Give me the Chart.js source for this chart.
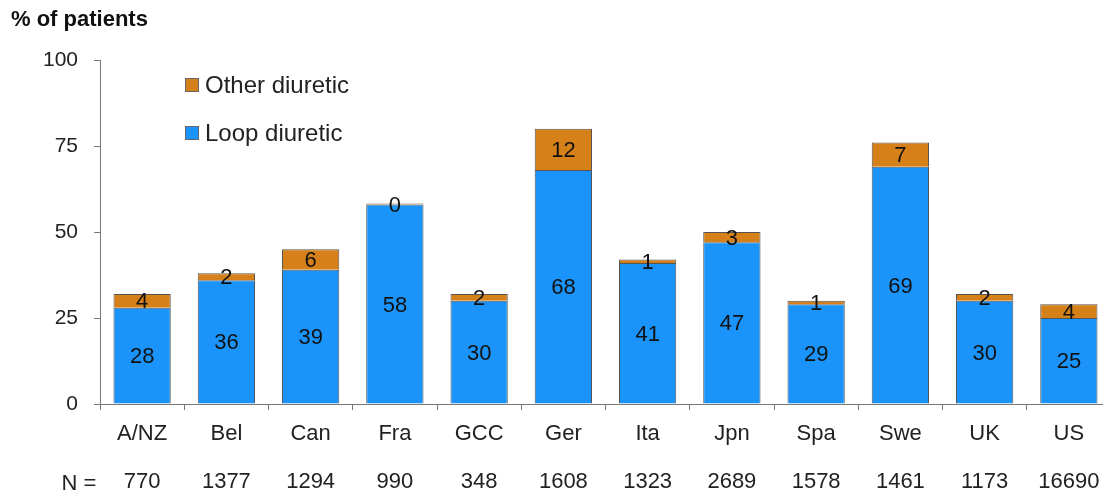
<!DOCTYPE html>
<html>
<head>
<meta charset="utf-8">
<script src="https://cdn.jsdelivr.net/npm/chart.js@4.4.1/dist/chart.umd.min.js"></script>
<style>
  html, body { margin: 0; padding: 0; background: #fff; overflow: hidden; }
  #wrap { position: relative; width: 1112px; height: 497px; }
</style>
</head>
<body>
<div id="wrap"><canvas id="diureticChart"></canvas></div>
<script>
const countries = ['A/NZ', 'Bel', 'Can', 'Fra', 'GCC', 'Ger', 'Ita', 'Jpn', 'Spa', 'Swe', 'UK', 'US'];
const patientCounts = ['770', '1377', '1294', '990', '348', '1608', '1323', '2689', '1578', '1461', '1173', '16690'];
const loopDiuretic = [28, 36, 39, 58, 30, 68, 41, 47, 29, 69, 30, 25];
const otherDiuretic = [4, 2, 6, 0.3, 2, 12, 1, 3, 1, 7, 2, 4];
const yTicks = [0, 25, 50, 75, 100];

const FONT = '"Liberation Sans", Arial, sans-serif';
const BLUE = '#1a94fa';
const ORANGE = '#d6801a';

// numbers inside each segment
const segmentLabels = {
    id: 'segmentLabels',
    afterDatasetsDraw(chart) {
        const ctx = chart.ctx;
        ctx.save();
        ctx.font = '22px ' + FONT;
        ctx.fillStyle = '#111';
        ctx.textAlign = 'center';
        ctx.textBaseline = 'middle';
        chart.data.datasets.forEach((ds, i) => {
            chart.getDatasetMeta(i).data.forEach((bar, j) => {
                const mid = (bar.y + bar.base) / 2;
                ctx.fillText(String(Math.round(ds.data[j])), bar.x, mid + 1.5);
            });
        });
        ctx.restore();
    }
};

// title, legend inside the plot and the "N =" row label
const extras = {
    id: 'extras',
    afterDraw(chart) {
        const ctx = chart.ctx;
        ctx.save();
        ctx.fillStyle = '#111';
        ctx.font = 'bold 22px ' + FONT;
        ctx.textAlign = 'left';
        ctx.textBaseline = 'middle';
        ctx.fillText('% of patients', 11, 20);

        const items = [
            { text: 'Other diuretic', color: ORANGE, y: 86 },
            { text: 'Loop diuretic', color: BLUE, y: 134 }
        ];
        ctx.font = '24px ' + FONT;
        items.forEach(it => {
            ctx.fillStyle = it.color;
            ctx.fillRect(185.5, it.y - 7.5, 13, 13);
            ctx.strokeStyle = '#666';
            ctx.lineWidth = 1;
            ctx.strokeRect(185.5, it.y - 7.5, 13, 13);
            ctx.fillStyle = '#222';
            ctx.fillText(it.text, 205, it.y);
        });

        ctx.font = '22px ' + FONT;
        ctx.textAlign = 'center';
        ctx.fillText('N =', 79, 484);
        ctx.restore();
    }
};

new Chart(document.getElementById('diureticChart'), {
    type: 'bar',
    data: {
        labels: countries,
        datasets: [
            {
                label: 'Loop diuretic',
                data: loopDiuretic,
                backgroundColor: BLUE,
                borderColor: '#555',
                borderWidth: 1
            },
            {
                label: 'Other diuretic',
                data: otherDiuretic,
                backgroundColor: ORANGE,
                borderColor: '#555',
                borderWidth: 1
            }
        ]
    },
    options: {
        responsive: true,
        maintainAspectRatio: false,
        animation: false,
        layout: { padding: { top: 60, left: 0, right: 1, bottom: 0 } },
        datasets: { bar: { barPercentage: 0.68, categoryPercentage: 1 } },
        plugins: {
            legend: { display: false },
            tooltip: { enabled: false }
        },
        scales: {
            x: {
                stacked: true,
                afterFit: (scale) => { scale.height = 93; },
                grid: {
                    offset: true,
                    drawOnChartArea: false,
                    drawTicks: true,
                    tickLength: 6,
                    color: '#777'
                },
                border: { color: '#777', width: 1 },
                ticks: {
                    padding: 12,
                    color: '#222',
                    font: { family: FONT, size: 22, lineHeight: 1.09 },
                    maxRotation: 0,
                    autoSkip: false,
                    callback: (value, index) => [countries[index], '', patientCounts[index]]
                }
            },
            y: {
                stacked: true,
                min: 0,
                max: 100,
                afterFit: (scale) => { scale.width = 100; },
                afterBuildTicks: (scale) => { scale.ticks = yTicks.map(v => ({ value: v })); },
                grid: {
                    drawOnChartArea: false,
                    drawTicks: true,
                    tickLength: 6,
                    color: '#777'
                },
                border: { color: '#777', width: 1 },
                ticks: {
                    padding: 16,
                    color: '#222',
                    font: { family: FONT, size: 21 }
                }
            }
        }
    },
    plugins: [segmentLabels, extras]
});
</script>
</body>
</html>
